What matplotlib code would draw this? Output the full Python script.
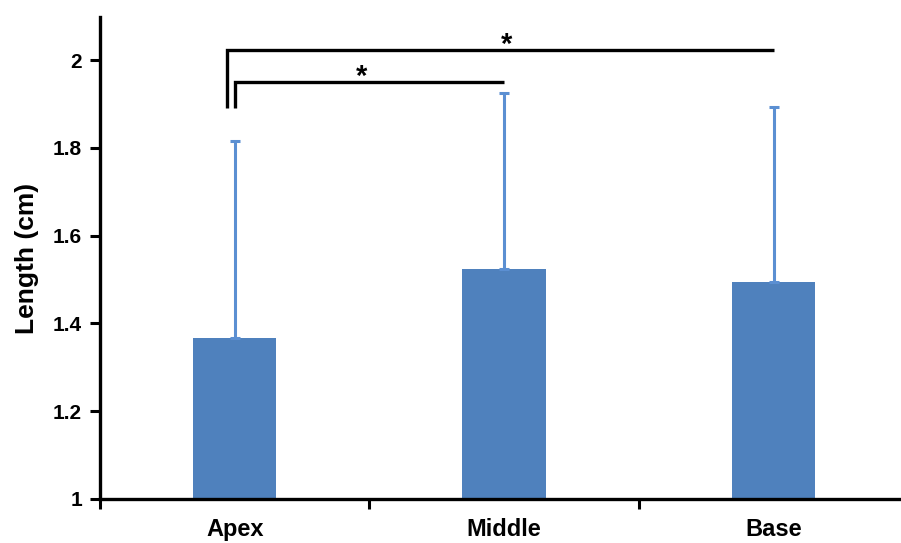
import numpy as np
import matplotlib.pyplot as plt

plt.rcParams['font.family'] = ['Liberation Sans', 'DejaVu Sans']

categories = ["Apex", "Middle", "Base"]
means = [1.367, 1.524, 1.494]
upper = [1.815, 1.925, 1.893]
y_ticks = [1, 1.2, 1.4, 1.6, 1.8, 2]
y_tick_labels = ["1", "1.2", "1.4", "1.6", "1.8", "2"]

# significance brackets: (from, to, height, drop, star x)
brackets = [(1, 3, 2.023, 1.89, 2.01), (1, 2, 1.95, 1.89, 1.47)]

x = np.arange(1, len(categories) + 1)
err = np.array(upper) - np.array(means)

fig = plt.figure(figsize=(9.01, 5.43), dpi=100)
ax = fig.add_axes([100 / 901, 44 / 543, 1 - 100 / 901, (499 - 17) / 543])

ax.bar(x, means, width=0.31, bottom=0, color="#4f81bd", zorder=2)
ax.errorbar(x, means, yerr=[np.zeros(len(err)), err], fmt="none",
            ecolor="#5b8fd2", elinewidth=2.2, capsize=3.5, capthick=2.2, zorder=3)

for i, (a, b, h, d, sx) in enumerate(brackets):
    xa = a - 0.027 if i == 0 else a
    ax.plot([xa, xa, b], [d, h, h], color="black", lw=2.4, solid_capstyle="butt",
            solid_joinstyle="miter", zorder=4)
    ax.text(sx, h - 0.007, "*", ha="center", va="baseline", fontsize=21,
            fontweight="bold")

ax.set_xlim(0.5, 3.473)
ax.set_ylim(1, 2.098)

ax.set_xticks(x)
ax.set_xticklabels(categories, fontsize=17, fontweight="bold")
ax.set_xticks([0.5, 1.5, 2.5], minor=True)
ax.tick_params(axis="x", which="major", length=0, pad=14)
ax.tick_params(axis="x", which="minor", length=7, width=2.2, direction="out")

ax.set_yticks(y_ticks)
ax.set_yticklabels(y_tick_labels, fontsize=15, fontweight="bold")
ax.tick_params(axis="y", length=7, width=2.2, direction="out", pad=6)

ax.set_ylabel("Length (cm)", fontsize=19, fontweight="bold", labelpad=10)

for s in ["top", "right"]:
    ax.spines[s].set_visible(False)
for s in ["left", "bottom"]:
    ax.spines[s].set_linewidth(2.4)

fig.savefig("out.png", dpi=100)
